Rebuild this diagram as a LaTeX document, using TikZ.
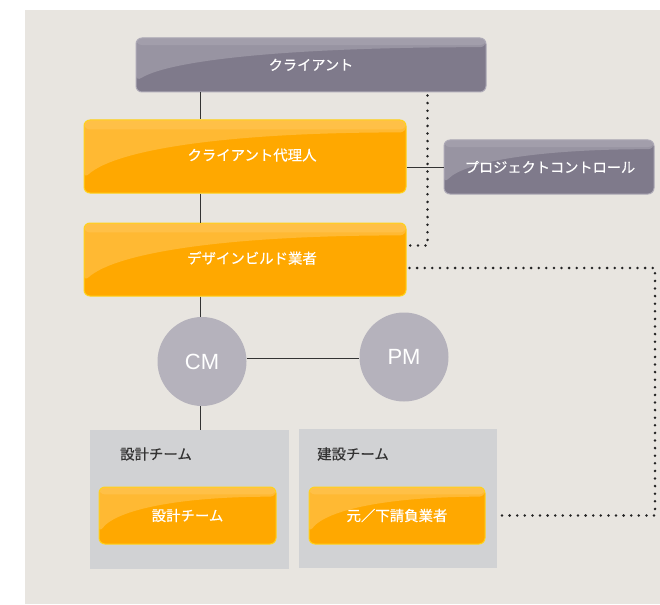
\documentclass[tikz,border=0pt]{standalone}
\usepackage{fontspec}
\setmainfont{Liberation Sans}
\newfontfamily\jp[FakeBold=0.4]{Noto Sans CJK JP}
\usetikzlibrary{calc}
\definecolor{bgc}{HTML}{E8E5E0}
\definecolor{orng}{HTML}{FFA800}
\definecolor{orngb}{HTML}{FFD21A}
\definecolor{gbox}{HTML}{7F7A8B}
\definecolor{gboxb}{HTML}{ADA9B6}
\definecolor{circ}{HTML}{B5B2BC}
\definecolor{panel}{HTML}{D1D2D4}
\definecolor{ln}{HTML}{333333}
\definecolor{dotc}{HTML}{222222}
\tikzset{
  gloss/.style={path picture={
    \fill[white,opacity=0.2]
      (path picture bounding box.north west) -- (path picture bounding box.north east)
      -- ($(path picture bounding box.north east)!0.17!(path picture bounding box.south east)$)
      .. controls ($(path picture bounding box.north west)!0.45!(path picture bounding box.north east)+(0,0.17*\pgfkeysvalueof{/tikz/glossh})$)
      and ($(path picture bounding box.north west)!0.1!(path picture bounding box.north east)+(0,0.4*\pgfkeysvalueof{/tikz/glossh})$)
      .. ($(path picture bounding box.north west)!0.8!(path picture bounding box.south west)$) -- cycle;
    \fill[white,opacity=0.1]
      (path picture bounding box.north west) rectangle
      ($(path picture bounding box.north east)+(0,0.13*\pgfkeysvalueof{/tikz/glossh})$);
  }},
  glossh/.initial=60,
  obox/.style={draw=orngb, line width=1pt, fill=orng, rounded corners=6pt, text=white,
    font=\jp\fontsize{14.4}{16}\selectfont, inner sep=0pt, gloss},
  gray box/.style={draw=gboxb, line width=1pt, fill=gbox, rounded corners=6pt, text=white,
    font=\jp\fontsize{14.2}{16}\selectfont, inner sep=0pt, gloss},
  circnode/.style={circle, fill=circ, minimum size=89pt, inner sep=0pt, text=white,
    font=\fontsize{22}{24}\selectfont},
  panelbox/.style={fill=panel, inner sep=0pt},
  plabel/.style={text=ln, font=\jp\fontsize{14.4}{16}\selectfont, anchor=west, inner sep=0pt},
  conn/.style={draw=ln, line width=0.9pt},
  dotline/.style={draw=dotc, line width=2.8pt, line cap=round, dash pattern=on 0pt off 7.6pt},
}
\begin{document}
\begin{tikzpicture}[x=1pt,y=-1pt]
\useasboundingbox (0,0) rectangle (660,604);
\fill[white] (0,0) rectangle (660,604);
\fill[bgc] (25,10) rectangle (660,604);

% panels
\node[panelbox, minimum width=199pt, minimum height=139pt] (dpanel) at (189.5,499.5) {};
\node[panelbox, minimum width=198pt, minimum height=139pt] (cpanel) at (398,498.5) {};
\node[plabel] (dlabel) at (120,454) {設計チーム};
\node[plabel] (clabel) at (317,454) {建設チーム};

% boxes
\node[gray box, glossh=54, minimum width=350pt, minimum height=54pt] (client) at (311,65) {\raisebox{1pt}{クライアント}};
\node[obox, glossh=73, minimum width=322pt, minimum height=73pt] (agent) at (245,156.5) {\hspace*{14pt}\raisebox{4pt}{クライアント代理人}};
\node[gray box, glossh=54, minimum width=210pt, minimum height=54pt] (pc) at (549,167) {\hspace*{2pt}プロジェクトコントロール};
\node[obox, glossh=73, minimum width=322pt, minimum height=73pt] (db) at (245,259.5) {\hspace*{14pt}\raisebox{4pt}{デザインビルド業者}};
\node[obox, glossh=57, minimum width=177pt, minimum height=57pt] (dteam) at (187.5,515.5) {設計チーム};
\node[obox, glossh=57, minimum width=176pt, minimum height=57pt] (sub) at (397,515.5) {元／下請負業者};

% circles
\node[circnode] (cm) at (202,361.5) {CM};
\node[circnode] (pm) at (404,357) {PM};

% solid connectors
\draw[conn] (client.south -| 200,0) -- (agent.north -| 200,0);
\draw[conn] (agent.south -| 200,0) -- (db.north -| 200,0);
\draw[conn] (db.south -| 200,0) -- (cm.north -| 200,0);
\draw[conn] (cm.south -| 200,0) -- (dpanel.north -| 200,0);
\draw[conn] (agent.east |- pc.west) -- (pc.west);
\draw[conn] (cm.east |- 0,358) -- (pm.west |- 0,358);

% dotted connectors
\coordinate (d1) at ($(client.south east)+(-59,3)$);
\coordinate (corner) at (655,268);
\draw[dotline] (d1) |- ([xshift=3pt,yshift=-23pt]db.north east);
\draw[dotline] ([xshift=3pt]db.east |- corner) -- (corner) |- ([xshift=4pt]cpanel.east |- sub.east);
\end{tikzpicture}
\end{document}
